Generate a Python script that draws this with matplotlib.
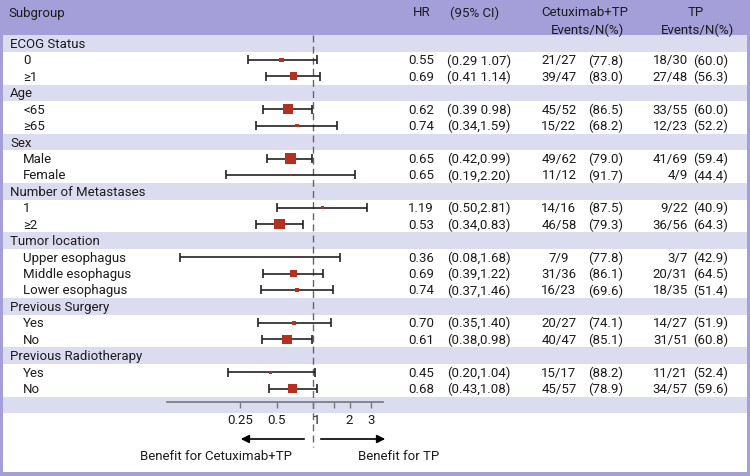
import numpy as np
import matplotlib
matplotlib.use('Agg')
import matplotlib.pyplot as plt
from matplotlib.patches import Rectangle

plt.rcParams['font.family'] = ['Roboto', 'DejaVu Sans']

# subgroup data
groups = ['ECOG Status', 'Age', 'Sex', 'Number of Metastases', 'Tumor location',
          'Previous Surgery', 'Previous Radiotherapy']
group_sizes = [2, 2, 2, 2, 3, 2, 2]
subgroups = ['0', '≥1', '<65', '≥65', 'Male', 'Female', '1', '≥2',
             'Upper esophagus', 'Middle esophagus', 'Lower esophagus',
             'Yes', 'No', 'Yes', 'No']
hr = [0.55, 0.69, 0.62, 0.74, 0.65, 0.65, 1.19, 0.53, 0.36, 0.69, 0.74, 0.70, 0.61, 0.45, 0.68]
ci_low = [0.29, 0.41, 0.39, 0.34, 0.42, 0.19, 0.50, 0.34, 0.08, 0.39, 0.37, 0.35, 0.38, 0.20, 0.43]
ci_high = [1.07, 1.14, 0.98, 1.59, 0.99, 2.20, 2.81, 0.83, 1.68, 1.22, 1.46, 1.40, 0.98, 1.04, 1.08]
ci_sep = [' ', ' ', ' ', ',', ',', ',', ',', ',', ',', ',', ',', ',', ',', ',', ',']
cet_events = ['21/27', '39/47', '45/52', '15/22', '49/62', '11/12', '14/16', '46/58',
              '7/9', '31/36', '16/23', '20/27', '40/47', '15/17', '45/57']
cet_pct = [77.8, 83.0, 86.5, 68.2, 79.0, 91.7, 87.5, 79.3, 77.8, 86.1, 69.6, 74.1, 85.1, 88.2, 78.9]
tp_events = ['18/30', '27/48', '33/55', '12/23', '41/69', '4/9', '9/22', '36/56',
             '3/7', '20/31', '18/35', '14/27', '31/51', '11/21', '34/57']
tp_pct = [60.0, 56.3, 60.0, 52.2, 59.4, 44.4, 40.9, 64.3, 42.9, 64.5, 51.4, 51.9, 60.8, 52.4, 59.6]

x_ticks = [0.25, 0.5, 1, 1.5, 2, 3]
x_ticklabels = ['0.25', '0.5', '1', '', '2', '3']

purple = '#a59fd9'
lavender = '#dcdcf0'
red = '#b5301f'
txt = '#1c1c1c'
fs = 9.5

W, H = 750, 476
fig = plt.figure(figsize=(7.5, 4.76), dpi=100)
bg = fig.add_axes([0, 0, 1, 1])
bg.set_xlim(0, W)
bg.set_ylim(H, 0)
bg.axis('off')


def row_y(i):
    return 43.5 + 16.43 * i


# which rows are group headers
group_rows = []
item_rows = []
r = 0
for g, n in zip(groups, group_sizes):
    group_rows.append(r)
    item_rows.extend(range(r + 1, r + 1 + n))
    r += n + 1
axis_row = r

# backgrounds
bg.add_patch(Rectangle((0, 0), W, row_y(0) - 8.2, color=purple, lw=0))
for gr in group_rows + [axis_row]:
    bg.add_patch(Rectangle((0, row_y(gr) - 8.2), W, 16.4, color=lavender, lw=0))
bg.add_patch(Rectangle((0, 0), 3, H, color=purple, lw=0))
bg.add_patch(Rectangle((W - 3.5, 0), 3.5, H, color=purple, lw=0))
bg.add_patch(Rectangle((0, H - 4.5), W, 4.5, color=purple, lw=0))

# header
bg.text(8, 13, 'Subgroup', fontsize=fs, color=txt, va='center')
bg.text(431, 13, 'HR', fontsize=fs, color=txt, va='center', ha='right')
bg.text(450, 13, '(95% CI)', fontsize=fs, color=txt, va='center')
bg.text(585, 13, 'Cetuximab+TP', fontsize=fs, color=txt, va='center', ha='center')
bg.text(588, 30, 'Events/N(%)', fontsize=fs, color=txt, va='center', ha='center')
bg.text(696, 13, 'TP', fontsize=fs, color=txt, va='center', ha='center')
bg.text(697, 30, 'Events/N(%)', fontsize=fs, color=txt, va='center', ha='center')

for g, gr in zip(groups, group_rows):
    bg.text(10, row_y(gr) + 1, g, fontsize=fs, color=txt, va='center')

for k, ir in enumerate(item_rows):
    y = row_y(ir) + 1
    bg.text(23, y, subgroups[k], fontsize=fs, color=txt, va='center')
    bg.text(434, y, f'{hr[k]:.2f}', fontsize=fs, color=txt, va='center', ha='right')
    bg.text(447, y, f'({ci_low[k]:.2f}{ci_sep[k]}{ci_high[k]:.2f})', fontsize=fs,
            color=txt, va='center')
    bg.text(559, y, cet_events[k], fontsize=fs, color=txt, va='center', ha='center')
    bg.text(588, y, f'({cet_pct[k]:.1f})', fontsize=fs, color=txt, va='center')
    bg.text(688, y, tp_events[k], fontsize=fs, color=txt, va='center', ha='right')
    bg.text(728, y, f'({tp_pct[k]:.1f})', fontsize=fs, color=txt, va='center', ha='right')

# forest plot
x_left, x_right = 167, 383
lim = (2 ** ((x_left - 313) / 36.5), 2 ** ((x_right - 313) / 36.5))
fax = fig.add_axes([x_left / W, 0, (x_right - x_left) / W, 1])
fax.set_xscale('log', base=2)
fax.set_xlim(*lim)
fax.set_ylim(H, 0)
fax.axis('off')
fax.patch.set_alpha(0)

ys = np.array([row_y(ir) for ir in item_rows])
lo = np.array(ci_low)
hi = np.array(ci_high)
est = np.array(hr)
se = (np.log(hi) - np.log(lo)) / (2 * 1.96)
weight = 1 / se ** 2
side_px = 0.53 * weight

fax.vlines(1, row_y(0) - 8.2, 447, color='#666666', lw=1, linestyles=(0, (5, 3)), zorder=1)
fax.hlines(ys, lo, hi, color='#222222', lw=1.2, zorder=2)
fax.vlines(lo, ys - 4.5, ys + 4.5, color='#222222', lw=1.2, zorder=2)
fax.vlines(hi, ys - 4.5, ys + 4.5, color='#222222', lw=1.2, zorder=2)
fax.scatter(est, ys, marker='s', s=(side_px * 0.72) ** 2, color=red, lw=0, zorder=3)

# x axis
axis_y = 402
tax = fig.add_axes([x_left / W, 1 - axis_y / H, (x_right - x_left) / W, 0.001])
tax.set_xscale('log', base=2)
tax.set_xlim(*lim)
tax.patch.set_alpha(0)
for s in ['top', 'left', 'right']:
    tax.spines[s].set_visible(False)
tax.spines['bottom'].set_color('#777777')
tax.spines['bottom'].set_linewidth(1.2)
tax.set_yticks([])
tax.set_xticks(x_ticks)
tax.set_xticklabels(x_ticklabels)
tax.minorticks_off()
tax.tick_params(axis='x', direction='out', length=4, color='#777777', width=1,
                labelsize=fs, labelcolor=txt, pad=5)
for lab in tax.get_xticklabels():
    if lab.get_text() == '1':
        lab.set_horizontalalignment('left')

# arrows and captions
bg.annotate('', xy=(238, 439), xytext=(307, 439),
            arrowprops=dict(arrowstyle='-|>', color='black', lw=1.2, mutation_scale=12))
bg.annotate('', xy=(388, 439), xytext=(318, 439),
            arrowprops=dict(arrowstyle='-|>', color='black', lw=1.2, mutation_scale=12))
bg.text(216, 456, 'Benefit for Cetuximab+TP', fontsize=fs, color=txt, va='center', ha='center')
bg.text(358, 456, 'Benefit for TP', fontsize=fs, color=txt, va='center')

fig.savefig('out.png', dpi=100)
